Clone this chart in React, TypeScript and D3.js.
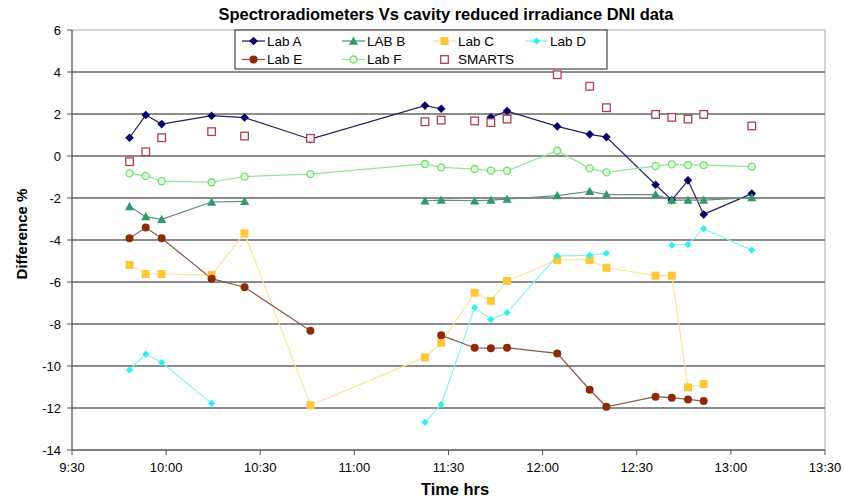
import { useMemo } from "react";
import * as d3 from "d3";

const WIDTH = 845;
const HEIGHT = 502;
const M = { left: 72, right: 825, top: 30, bottom: 450 };

// measurement times (h:mm:ss)
const times = [
  "9:48:20", "9:53:30", "9:58:35", "10:14:30", "10:25:00", "10:46:00",
  "11:22:30", "11:27:40", "11:38:20", "11:43:30", "11:48:40", "12:04:40",
  "12:15:00", "12:20:20", "12:36:00", "12:41:10", "12:46:20", "12:51:20", "13:06:40",
];

const labA = [0.87, 1.95, 1.52, 1.92, 1.83, 0.8, 2.4, 2.25, null, 1.84, 2.14, 1.41, 1.03, 0.9, -1.37, -2.1, -1.16, -2.78, -1.79];
const labB = [-2.41, -2.89, -3.02, -2.19, -2.16, null, -2.13, -2.1, -2.13, -2.1, -2.05, -1.89, -1.68, -1.84, -1.84, -2.1, -2.1, -2.1, -1.98];
const labC = [-5.19, -5.62, -5.62, -5.67, -3.68, -11.87, -9.59, -8.89, -6.51, -6.9, -5.95, -4.95, -4.95, -5.32, -5.7, -5.7, -11.02, -10.86, null];
const labD = [-10.19, -9.43, -9.83, -11.78, null, null, -12.68, -11.83, -7.22, -7.78, -7.46, -4.76, -4.73, -4.63, null, -4.25, -4.21, -3.46, -4.48];
const labE = [-3.92, -3.41, -3.92, -5.84, -6.25, -8.32, null, -8.54, -9.13, -9.16, -9.13, -9.4, -11.13, -11.94, -11.46, -11.51, -11.59, -11.67, null];
const labF = [-0.83, -0.95, -1.2, -1.25, -0.98, -0.86, -0.38, -0.54, -0.62, -0.7, -0.7, 0.25, -0.59, -0.78, -0.48, -0.4, -0.43, -0.43, -0.51];
const smarts = [-0.27, 0.2, 0.87, 1.16, 0.95, 0.84, 1.63, 1.71, 1.67, 1.59, 1.76, 3.87, 3.32, 2.3, 1.98, 1.84, 1.76, 1.98, 1.43];

const xTickLabels = ["9:30", "10:00", "10:30", "11:00", "11:30", "12:00", "12:30", "13:00", "13:30"];
const yTicks = [6, 4, 2, 0, -2, -4, -6, -8, -10, -12, -14];

type Shape = "diamond" | "triangle" | "square" | "circle" | "openCircle" | "openSquare";
type Series = { name: string; values: (number | null)[]; shape: Shape; marker: string; line: string | null; size: number };

const series: Series[] = [
  { name: "Lab A", values: labA, shape: "diamond", marker: "#000066", line: "#22225e", size: 4.3 },
  { name: "LAB B", values: labB, shape: "triangle", marker: "#339966", line: "#5f8f84", size: 4.6 },
  { name: "Lab C", values: labC, shape: "square", marker: "#fcc83a", line: "#fbe39a", size: 4 },
  { name: "Lab D", values: labD, shape: "diamond", marker: "#2ef0f0", line: "#86f2f2", size: 3.6 },
  { name: "Lab E", values: labE, shape: "circle", marker: "#8e2a0c", line: "#8a5848", size: 4 },
  { name: "Lab F", values: labF, shape: "openCircle", marker: "#6ede6e", line: "#8fe68f", size: 3.5 },
  { name: "SMARTS", values: smarts, shape: "openSquare", marker: "#b0404e", line: null, size: 3.8 },
];

const toMinutes = (t: string) => {
  const [h, m, s] = t.split(":").map(Number);
  return h * 60 + m + (s || 0) / 60;
};

function Marker({ s, x, y }: { s: Series; x: number; y: number }) {
  const r = s.size;
  switch (s.shape) {
    case "diamond":
      return <path d={`M${x},${y - r}L${x + r},${y}L${x},${y + r}L${x - r},${y}Z`} fill={s.marker} />;
    case "triangle":
      return <path d={`M${x},${y - r}L${x + r},${y + r * 0.8}L${x - r},${y + r * 0.8}Z`} fill={s.marker} />;
    case "square":
      return <rect x={x - r} y={y - r} width={r * 2} height={r * 2} fill={s.marker} />;
    case "circle":
      return <circle cx={x} cy={y} r={r} fill={s.marker} />;
    case "openCircle":
      return <circle cx={x} cy={y} r={r} fill="#e4fbe4" stroke={s.marker} strokeWidth={1.3} />;
    case "openSquare":
      return <rect x={x - r} y={y - r} width={r * 2} height={r * 2} fill="#fff" stroke={s.marker} strokeWidth={1.3} />;
  }
}

export default function App() {
  const x = useMemo(() => d3.scaleLinear().domain([toMinutes("9:30"), toMinutes("13:30")]).range([M.left, M.right]), []);
  const y = useMemo(() => d3.scaleLinear().domain([-14, 6]).range([M.bottom, M.top]), []);
  const tx = times.map(toMinutes);

  const lineGen = d3
    .line<number | null>()
    .defined((d) => d != null)
    .x((_, i) => x(tx[i]))
    .y((d) => y(d as number));

  const font = "'Liberation Sans', Arial, sans-serif";
  const legendCols = [242, 342, 433, 525];
  const legendRows = [41, 59.5];

  return (
    <svg width={WIDTH} height={HEIGHT} style={{ position: "absolute", left: 0, top: 0, background: "#fff" }} fontFamily={font}>
      <text x={446} y={20} textAnchor="middle" fontWeight="bold" fontSize={16} textLength={455} lengthAdjust="spacingAndGlyphs">
        Spectroradiometers Vs cavity reduced irradiance DNI data
      </text>

      {/* plot border */}
      <line x1={M.left} x2={M.right} y1={M.top} y2={M.top} stroke="#c6c6c6" strokeWidth={1.5} />
      <line x1={M.right} x2={M.right} y1={M.top} y2={M.bottom} stroke="#c6c6c6" strokeWidth={1.5} />

      {yTicks.filter((t) => t !== 6 && t !== -14).map((t) => (
        <line key={t} x1={M.left} x2={M.right} y1={y(t)} y2={y(t)} stroke="#666" strokeWidth={1.6} />
      ))}

      {/* axes */}
      <line x1={M.left} x2={M.left} y1={M.top} y2={M.bottom} stroke="#555" strokeWidth={1.3} />
      <line x1={M.left} x2={M.right} y1={M.bottom} y2={M.bottom} stroke="#555" strokeWidth={1.3} />
      {yTicks.map((t) => (
        <g key={t}>
          <line x1={M.left - 5} x2={M.left} y1={y(t)} y2={y(t)} stroke="#555" />
          <text x={M.left - 11} y={y(t)} dy="0.35em" textAnchor="end" fontSize={13}>{t}</text>
        </g>
      ))}
      {xTickLabels.map((t) => (
        <g key={t}>
          <line x1={x(toMinutes(t))} x2={x(toMinutes(t))} y1={M.bottom} y2={M.bottom + 5} stroke="#555" />
          <text x={x(toMinutes(t))} y={472} textAnchor="middle" fontSize={13}>{t}</text>
        </g>
      ))}

      <text x={455} y={495} textAnchor="middle" fontWeight="bold" fontSize={16} textLength={68} lengthAdjust="spacingAndGlyphs">Time hrs</text>
      <text transform="translate(27,234) rotate(-90)" textAnchor="middle" fontWeight="bold" fontSize={15}>
        Difference %
      </text>

      {series.map((s) =>
        s.line ? <path key={s.name} d={lineGen(s.values) ?? ""} fill="none" stroke={s.line} strokeWidth={1.2} /> : null
      )}
      {series.map((s) => (
        <g key={s.name}>
          {s.values.map((v, i) => (v == null ? null : <Marker key={i} s={s} x={x(tx[i])} y={y(v)} />))}
        </g>
      ))}

      {/* legend */}
      <rect x={235} y={30} width={372} height={39} fill="#fff" stroke="#222" strokeWidth={1} />
      {series.map((s, i) => {
        const lx = legendCols[i % 4];
        const ly = legendRows[Math.floor(i / 4)];
        return (
          <g key={s.name}>
            {s.line ? <line x1={lx} x2={lx + 23} y1={ly} y2={ly} stroke={s.line} strokeWidth={1.3} /> : null}
            <Marker s={s} x={lx + 11.5} y={ly} />
            <text x={lx + 25} y={ly} dy="0.36em" fontSize={13.5}>{s.name}</text>
          </g>
        );
      })}
    </svg>
  );
}
